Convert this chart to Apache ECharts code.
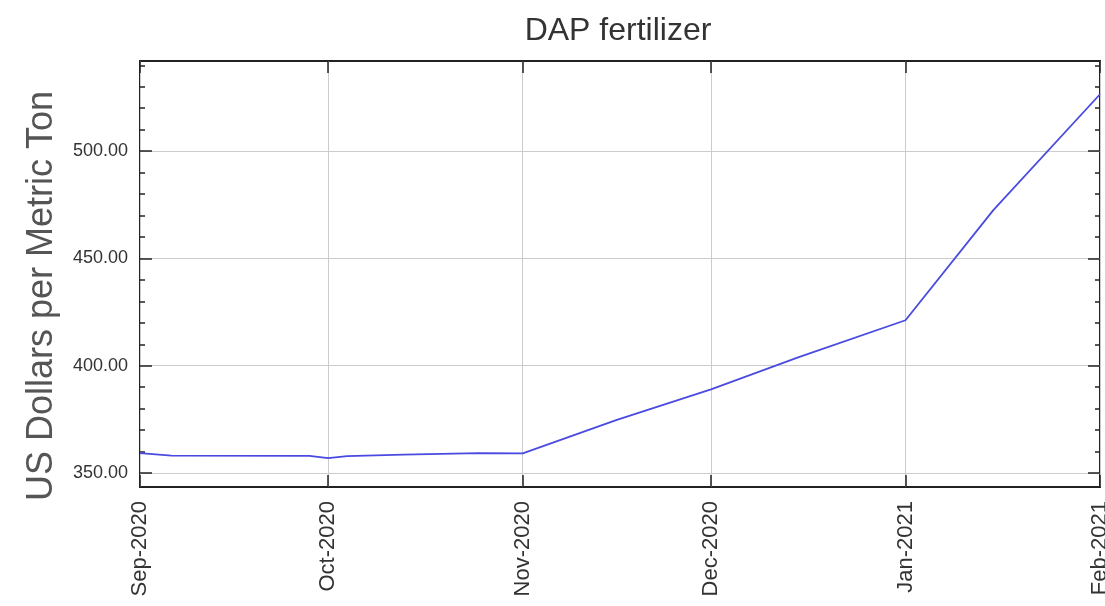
<!DOCTYPE html>
<html>
<head>
<meta charset="utf-8">
<title>DAP fertilizer</title>
<script src="https://cdn.jsdelivr.net/npm/echarts@6/dist/echarts.min.js"></script>
<style>
  html, body { margin: 0; padding: 0; background: #fff; }
  #chart { width: 1105px; height: 606px; }
</style>
</head>
<body>
<div id="chart"></div>
<script>
// price points (date, US$ per metric ton)
const dates = [
  "2020-09-01", "2020-09-06", "2020-09-28", "2020-10-01", "2020-10-04",
  "2020-10-13", "2020-10-25", "2020-11-01", "2020-11-16", "2020-12-01",
  "2020-12-15", "2021-01-01", "2021-01-15", "2021-02-01"
];
const prices = [
  359.3, 358.1, 358.0, 357.0, 357.9,
  358.6, 359.3, 359.2, 374.8, 389.0,
  404.0, 421.2, 472.5, 526.5
];
// axis ticks
const monthTicks = ["2020-09-01", "2020-10-01", "2020-11-01", "2020-12-01", "2021-01-01", "2021-02-01"];
const yTicks = [350, 400, 450, 500];
const yMinorTicks = [350, 360, 370, 380, 390, 400, 410, 420, 430, 440, 450, 460, 470, 480, 490, 500, 510, 520, 530, 540];
const monthNames = ["Jan", "Feb", "Mar", "Apr", "May", "Jun", "Jul", "Aug", "Sep", "Oct", "Nov", "Dec"];

const yMin = 343.5;
const yMax = 542;

// local time everywhere so labels match the points
function toTime(s) {
  const p = s.split("-");
  return new Date(+p[0], +p[1] - 1, +p[2]).getTime();
}

const xTickValues = monthTicks.map(toTime);
const xMin = xTickValues[0];
const xMax = xTickValues[xTickValues.length - 1];
const lineData = dates.map((d, i) => [toTime(d), prices[i]]);

const chart = echarts.init(document.getElementById("chart"));

const tickColor = "#222";
const gridColor = "#cccccc";
const font = "Liberation Sans, Arial, sans-serif";

// helper for the extra axes that only carry ticks (top / right / minor)
function tickOnlyY(position, values, length) {
  return {
    type: "value",
    position: position,
    min: yMin,
    max: yMax,
    axisLine: { show: false },
    axisLabel: { show: false, customValues: values },
    axisTick: { show: true, inside: true, length: length, customValues: values, lineStyle: { color: tickColor, width: 1.5 } },
    splitLine: { show: false }
  };
}

const option = {
  animation: false,
  backgroundColor: "#fff",
  title: {
    text: "DAP fertilizer",
    left: 613,
    textAlign: "center",
    top: 10,
    textStyle: { fontFamily: font, fontSize: 32, fontWeight: "normal", color: "#333" }
  },
  grid: {
    left: 140,
    right: 5,
    top: 61,
    bottom: 119,
    outerBoundsMode: "none",
    show: true,
    borderColor: "#222",
    borderWidth: 2
  },
  xAxis: [
    {
      // dates kept as plain timestamps on a value axis so the custom month ticks work
      type: "value",
      min: xMin,
      max: xMax,
      axisLine: { show: false },
      axisTick: { show: true, inside: true, length: 12, customValues: xTickValues, lineStyle: { color: tickColor, width: 1.5 } },
      axisLabel: {
        customValues: xTickValues,
        rotate: 90,
        margin: 14,
        color: "#333",
        fontFamily: font,
        fontSize: 22,
        formatter: function (v) {
          const d = new Date(v);
          return monthNames[d.getMonth()] + "-" + d.getFullYear();
        }
      },
      splitLine: { show: true, lineStyle: { color: gridColor, width: 1 } }
    },
    {
      type: "value",
      position: "top",
      min: xMin,
      max: xMax,
      axisLine: { show: false },
      axisTick: { show: true, inside: true, length: 12, customValues: xTickValues, lineStyle: { color: tickColor, width: 1.5 } },
      axisLabel: { show: false, customValues: xTickValues },
      splitLine: { show: false }
    }
  ],
  yAxis: [
    {
      type: "value",
      position: "left",
      min: yMin,
      max: yMax,
      name: "US Dollars per Metric Ton",
      nameLocation: "middle",
      nameGap: 80,
      nameTextStyle: { fontFamily: font, fontSize: 36, color: "#555", padding: [0, 44, 0, 0] },
      axisLine: { show: false },
      axisTick: { show: true, inside: true, length: 12, customValues: yTicks, lineStyle: { color: tickColor, width: 1.5 } },
      axisLabel: {
        customValues: yTicks,
        margin: 12,
        color: "#333",
        fontFamily: font,
        fontSize: 18,
        formatter: function (v) { return v.toFixed(2); }
      },
      splitLine: { show: true, lineStyle: { color: gridColor, width: 1 } }
    },
    tickOnlyY("left", yMinorTicks, 5),
    tickOnlyY("right", yTicks, 12),
    tickOnlyY("right", yMinorTicks, 5)
  ],
  series: [
    {
      type: "line",
      xAxisIndex: 0,
      yAxisIndex: 0,
      data: lineData,
      showSymbol: false,
      lineStyle: { color: "#4a4ae0", width: 1.8 },
      itemStyle: { color: "#4a4ae0" }
    }
  ]
};

chart.setOption(option);
</script>
</body>
</html>
